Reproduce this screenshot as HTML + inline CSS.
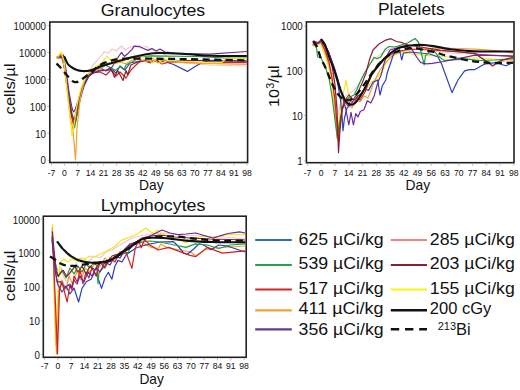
<!DOCTYPE html><html><head><meta charset="utf-8"><style>html,body{margin:0;padding:0;background:#fff;}svg{display:block}text{font-family:"Liberation Sans", sans-serif;fill:#111}</style></head><body>
<svg width="520" height="390" viewBox="0 0 520 390">
<rect width="520" height="390" fill="#fff"/>
<rect x="49.8" y="22" width="197.80" height="140.50" fill="none" stroke="#222" stroke-width="1.6"/>
<line x1="51.50" y1="163.30" x2="51.50" y2="165.50" stroke="#aaa" stroke-width="0.8"/>
<text x="51.50" y="176.20" text-anchor="middle" font-size="9.8" transform="translate(51.50 0) scale(0.88 1) translate(-51.50 0)">-7</text>
<line x1="64.53" y1="163.30" x2="64.53" y2="165.50" stroke="#aaa" stroke-width="0.8"/>
<text x="64.53" y="176.20" text-anchor="middle" font-size="9.8" transform="translate(64.53 0) scale(0.88 1) translate(-64.53 0)">0</text>
<line x1="77.56" y1="163.30" x2="77.56" y2="165.50" stroke="#aaa" stroke-width="0.8"/>
<text x="77.56" y="176.20" text-anchor="middle" font-size="9.8" transform="translate(77.56 0) scale(0.88 1) translate(-77.56 0)">7</text>
<line x1="90.59" y1="163.30" x2="90.59" y2="165.50" stroke="#aaa" stroke-width="0.8"/>
<text x="90.59" y="176.20" text-anchor="middle" font-size="9.8" transform="translate(90.59 0) scale(0.88 1) translate(-90.59 0)">14</text>
<line x1="103.62" y1="163.30" x2="103.62" y2="165.50" stroke="#aaa" stroke-width="0.8"/>
<text x="103.62" y="176.20" text-anchor="middle" font-size="9.8" transform="translate(103.62 0) scale(0.88 1) translate(-103.62 0)">21</text>
<line x1="116.65" y1="163.30" x2="116.65" y2="165.50" stroke="#aaa" stroke-width="0.8"/>
<text x="116.65" y="176.20" text-anchor="middle" font-size="9.8" transform="translate(116.65 0) scale(0.88 1) translate(-116.65 0)">28</text>
<line x1="129.68" y1="163.30" x2="129.68" y2="165.50" stroke="#aaa" stroke-width="0.8"/>
<text x="129.68" y="176.20" text-anchor="middle" font-size="9.8" transform="translate(129.68 0) scale(0.88 1) translate(-129.68 0)">35</text>
<line x1="142.71" y1="163.30" x2="142.71" y2="165.50" stroke="#aaa" stroke-width="0.8"/>
<text x="142.71" y="176.20" text-anchor="middle" font-size="9.8" transform="translate(142.71 0) scale(0.88 1) translate(-142.71 0)">42</text>
<line x1="155.74" y1="163.30" x2="155.74" y2="165.50" stroke="#aaa" stroke-width="0.8"/>
<text x="155.74" y="176.20" text-anchor="middle" font-size="9.8" transform="translate(155.74 0) scale(0.88 1) translate(-155.74 0)">49</text>
<line x1="168.77" y1="163.30" x2="168.77" y2="165.50" stroke="#aaa" stroke-width="0.8"/>
<text x="168.77" y="176.20" text-anchor="middle" font-size="9.8" transform="translate(168.77 0) scale(0.88 1) translate(-168.77 0)">56</text>
<line x1="181.80" y1="163.30" x2="181.80" y2="165.50" stroke="#aaa" stroke-width="0.8"/>
<text x="181.80" y="176.20" text-anchor="middle" font-size="9.8" transform="translate(181.80 0) scale(0.88 1) translate(-181.80 0)">63</text>
<line x1="194.83" y1="163.30" x2="194.83" y2="165.50" stroke="#aaa" stroke-width="0.8"/>
<text x="194.83" y="176.20" text-anchor="middle" font-size="9.8" transform="translate(194.83 0) scale(0.88 1) translate(-194.83 0)">70</text>
<line x1="207.86" y1="163.30" x2="207.86" y2="165.50" stroke="#aaa" stroke-width="0.8"/>
<text x="207.86" y="176.20" text-anchor="middle" font-size="9.8" transform="translate(207.86 0) scale(0.88 1) translate(-207.86 0)">77</text>
<line x1="220.89" y1="163.30" x2="220.89" y2="165.50" stroke="#aaa" stroke-width="0.8"/>
<text x="220.89" y="176.20" text-anchor="middle" font-size="9.8" transform="translate(220.89 0) scale(0.88 1) translate(-220.89 0)">84</text>
<line x1="233.92" y1="163.30" x2="233.92" y2="165.50" stroke="#aaa" stroke-width="0.8"/>
<text x="233.92" y="176.20" text-anchor="middle" font-size="9.8" transform="translate(233.92 0) scale(0.88 1) translate(-233.92 0)">91</text>
<line x1="246.95" y1="163.30" x2="246.95" y2="165.50" stroke="#aaa" stroke-width="0.8"/>
<text x="246.95" y="176.20" text-anchor="middle" font-size="9.8" transform="translate(246.95 0) scale(0.88 1) translate(-246.95 0)">98</text>
<line x1="47.30" y1="160.20" x2="49.00" y2="160.20" stroke="#aaa" stroke-width="0.8"/>
<text x="46.00" y="164.50" text-anchor="end" font-size="10.8" transform="translate(46.00 0) scale(0.9 1) translate(-46.00 0)">0</text>
<line x1="47.30" y1="133.28" x2="49.00" y2="133.28" stroke="#aaa" stroke-width="0.8"/>
<text x="46.00" y="137.58" text-anchor="end" font-size="10.8" transform="translate(46.00 0) scale(0.9 1) translate(-46.00 0)">10</text>
<line x1="47.30" y1="106.36" x2="49.00" y2="106.36" stroke="#aaa" stroke-width="0.8"/>
<text x="46.00" y="110.66" text-anchor="end" font-size="10.8" transform="translate(46.00 0) scale(0.9 1) translate(-46.00 0)">100</text>
<line x1="47.30" y1="79.44" x2="49.00" y2="79.44" stroke="#aaa" stroke-width="0.8"/>
<text x="46.00" y="83.74" text-anchor="end" font-size="10.8" transform="translate(46.00 0) scale(0.9 1) translate(-46.00 0)">1000</text>
<line x1="47.30" y1="52.52" x2="49.00" y2="52.52" stroke="#aaa" stroke-width="0.8"/>
<text x="46.00" y="56.82" text-anchor="end" font-size="10.8" transform="translate(46.00 0) scale(0.9 1) translate(-46.00 0)">10000</text>
<line x1="47.30" y1="25.60" x2="49.00" y2="25.60" stroke="#aaa" stroke-width="0.8"/>
<text x="46.00" y="29.90" text-anchor="end" font-size="10.8" transform="translate(46.00 0) scale(0.9 1) translate(-46.00 0)">100000</text>
<rect x="306.4" y="21.9" width="207.60" height="140.80" fill="none" stroke="#222" stroke-width="1.6"/>
<line x1="307.50" y1="163.50" x2="307.50" y2="165.70" stroke="#aaa" stroke-width="0.8"/>
<text x="307.50" y="176.20" text-anchor="middle" font-size="9.8" transform="translate(307.50 0) scale(0.88 1) translate(-307.50 0)">-7</text>
<line x1="321.25" y1="163.50" x2="321.25" y2="165.70" stroke="#aaa" stroke-width="0.8"/>
<text x="321.25" y="176.20" text-anchor="middle" font-size="9.8" transform="translate(321.25 0) scale(0.88 1) translate(-321.25 0)">0</text>
<line x1="335.00" y1="163.50" x2="335.00" y2="165.70" stroke="#aaa" stroke-width="0.8"/>
<text x="335.00" y="176.20" text-anchor="middle" font-size="9.8" transform="translate(335.00 0) scale(0.88 1) translate(-335.00 0)">7</text>
<line x1="348.75" y1="163.50" x2="348.75" y2="165.70" stroke="#aaa" stroke-width="0.8"/>
<text x="348.75" y="176.20" text-anchor="middle" font-size="9.8" transform="translate(348.75 0) scale(0.88 1) translate(-348.75 0)">14</text>
<line x1="362.50" y1="163.50" x2="362.50" y2="165.70" stroke="#aaa" stroke-width="0.8"/>
<text x="362.50" y="176.20" text-anchor="middle" font-size="9.8" transform="translate(362.50 0) scale(0.88 1) translate(-362.50 0)">21</text>
<line x1="376.25" y1="163.50" x2="376.25" y2="165.70" stroke="#aaa" stroke-width="0.8"/>
<text x="376.25" y="176.20" text-anchor="middle" font-size="9.8" transform="translate(376.25 0) scale(0.88 1) translate(-376.25 0)">28</text>
<line x1="390.00" y1="163.50" x2="390.00" y2="165.70" stroke="#aaa" stroke-width="0.8"/>
<text x="390.00" y="176.20" text-anchor="middle" font-size="9.8" transform="translate(390.00 0) scale(0.88 1) translate(-390.00 0)">35</text>
<line x1="403.75" y1="163.50" x2="403.75" y2="165.70" stroke="#aaa" stroke-width="0.8"/>
<text x="403.75" y="176.20" text-anchor="middle" font-size="9.8" transform="translate(403.75 0) scale(0.88 1) translate(-403.75 0)">42</text>
<line x1="417.50" y1="163.50" x2="417.50" y2="165.70" stroke="#aaa" stroke-width="0.8"/>
<text x="417.50" y="176.20" text-anchor="middle" font-size="9.8" transform="translate(417.50 0) scale(0.88 1) translate(-417.50 0)">49</text>
<line x1="431.25" y1="163.50" x2="431.25" y2="165.70" stroke="#aaa" stroke-width="0.8"/>
<text x="431.25" y="176.20" text-anchor="middle" font-size="9.8" transform="translate(431.25 0) scale(0.88 1) translate(-431.25 0)">56</text>
<line x1="445.00" y1="163.50" x2="445.00" y2="165.70" stroke="#aaa" stroke-width="0.8"/>
<text x="445.00" y="176.20" text-anchor="middle" font-size="9.8" transform="translate(445.00 0) scale(0.88 1) translate(-445.00 0)">63</text>
<line x1="458.75" y1="163.50" x2="458.75" y2="165.70" stroke="#aaa" stroke-width="0.8"/>
<text x="458.75" y="176.20" text-anchor="middle" font-size="9.8" transform="translate(458.75 0) scale(0.88 1) translate(-458.75 0)">70</text>
<line x1="472.50" y1="163.50" x2="472.50" y2="165.70" stroke="#aaa" stroke-width="0.8"/>
<text x="472.50" y="176.20" text-anchor="middle" font-size="9.8" transform="translate(472.50 0) scale(0.88 1) translate(-472.50 0)">77</text>
<line x1="486.25" y1="163.50" x2="486.25" y2="165.70" stroke="#aaa" stroke-width="0.8"/>
<text x="486.25" y="176.20" text-anchor="middle" font-size="9.8" transform="translate(486.25 0) scale(0.88 1) translate(-486.25 0)">84</text>
<line x1="500.00" y1="163.50" x2="500.00" y2="165.70" stroke="#aaa" stroke-width="0.8"/>
<text x="500.00" y="176.20" text-anchor="middle" font-size="9.8" transform="translate(500.00 0) scale(0.88 1) translate(-500.00 0)">91</text>
<line x1="513.75" y1="163.50" x2="513.75" y2="165.70" stroke="#aaa" stroke-width="0.8"/>
<text x="513.75" y="176.20" text-anchor="middle" font-size="9.8" transform="translate(513.75 0) scale(0.88 1) translate(-513.75 0)">98</text>
<line x1="303.90" y1="160.30" x2="305.60" y2="160.30" stroke="#aaa" stroke-width="0.8"/>
<text x="302.70" y="164.60" text-anchor="end" font-size="10.8" transform="translate(302.70 0) scale(0.9 1) translate(-302.70 0)">1</text>
<line x1="303.90" y1="115.50" x2="305.60" y2="115.50" stroke="#aaa" stroke-width="0.8"/>
<text x="302.70" y="119.80" text-anchor="end" font-size="10.8" transform="translate(302.70 0) scale(0.9 1) translate(-302.70 0)">10</text>
<line x1="303.90" y1="70.70" x2="305.60" y2="70.70" stroke="#aaa" stroke-width="0.8"/>
<text x="302.70" y="75.00" text-anchor="end" font-size="10.8" transform="translate(302.70 0) scale(0.9 1) translate(-302.70 0)">100</text>
<line x1="303.90" y1="25.90" x2="305.60" y2="25.90" stroke="#aaa" stroke-width="0.8"/>
<text x="302.70" y="30.20" text-anchor="end" font-size="10.8" transform="translate(302.70 0) scale(0.9 1) translate(-302.70 0)">1000</text>
<rect x="43.3" y="216.2" width="202.90" height="141.10" fill="none" stroke="#222" stroke-width="1.6"/>
<line x1="44.60" y1="358.10" x2="44.60" y2="360.30" stroke="#aaa" stroke-width="0.8"/>
<text x="44.60" y="369.30" text-anchor="middle" font-size="9.8" transform="translate(44.60 0) scale(0.88 1) translate(-44.60 0)">-7</text>
<line x1="57.90" y1="358.10" x2="57.90" y2="360.30" stroke="#aaa" stroke-width="0.8"/>
<text x="57.90" y="369.30" text-anchor="middle" font-size="9.8" transform="translate(57.90 0) scale(0.88 1) translate(-57.90 0)">0</text>
<line x1="71.20" y1="358.10" x2="71.20" y2="360.30" stroke="#aaa" stroke-width="0.8"/>
<text x="71.20" y="369.30" text-anchor="middle" font-size="9.8" transform="translate(71.20 0) scale(0.88 1) translate(-71.20 0)">7</text>
<line x1="84.50" y1="358.10" x2="84.50" y2="360.30" stroke="#aaa" stroke-width="0.8"/>
<text x="84.50" y="369.30" text-anchor="middle" font-size="9.8" transform="translate(84.50 0) scale(0.88 1) translate(-84.50 0)">14</text>
<line x1="97.80" y1="358.10" x2="97.80" y2="360.30" stroke="#aaa" stroke-width="0.8"/>
<text x="97.80" y="369.30" text-anchor="middle" font-size="9.8" transform="translate(97.80 0) scale(0.88 1) translate(-97.80 0)">21</text>
<line x1="111.10" y1="358.10" x2="111.10" y2="360.30" stroke="#aaa" stroke-width="0.8"/>
<text x="111.10" y="369.30" text-anchor="middle" font-size="9.8" transform="translate(111.10 0) scale(0.88 1) translate(-111.10 0)">28</text>
<line x1="124.40" y1="358.10" x2="124.40" y2="360.30" stroke="#aaa" stroke-width="0.8"/>
<text x="124.40" y="369.30" text-anchor="middle" font-size="9.8" transform="translate(124.40 0) scale(0.88 1) translate(-124.40 0)">35</text>
<line x1="137.70" y1="358.10" x2="137.70" y2="360.30" stroke="#aaa" stroke-width="0.8"/>
<text x="137.70" y="369.30" text-anchor="middle" font-size="9.8" transform="translate(137.70 0) scale(0.88 1) translate(-137.70 0)">42</text>
<line x1="151.00" y1="358.10" x2="151.00" y2="360.30" stroke="#aaa" stroke-width="0.8"/>
<text x="151.00" y="369.30" text-anchor="middle" font-size="9.8" transform="translate(151.00 0) scale(0.88 1) translate(-151.00 0)">49</text>
<line x1="164.30" y1="358.10" x2="164.30" y2="360.30" stroke="#aaa" stroke-width="0.8"/>
<text x="164.30" y="369.30" text-anchor="middle" font-size="9.8" transform="translate(164.30 0) scale(0.88 1) translate(-164.30 0)">56</text>
<line x1="177.60" y1="358.10" x2="177.60" y2="360.30" stroke="#aaa" stroke-width="0.8"/>
<text x="177.60" y="369.30" text-anchor="middle" font-size="9.8" transform="translate(177.60 0) scale(0.88 1) translate(-177.60 0)">63</text>
<line x1="190.90" y1="358.10" x2="190.90" y2="360.30" stroke="#aaa" stroke-width="0.8"/>
<text x="190.90" y="369.30" text-anchor="middle" font-size="9.8" transform="translate(190.90 0) scale(0.88 1) translate(-190.90 0)">70</text>
<line x1="204.20" y1="358.10" x2="204.20" y2="360.30" stroke="#aaa" stroke-width="0.8"/>
<text x="204.20" y="369.30" text-anchor="middle" font-size="9.8" transform="translate(204.20 0) scale(0.88 1) translate(-204.20 0)">77</text>
<line x1="217.50" y1="358.10" x2="217.50" y2="360.30" stroke="#aaa" stroke-width="0.8"/>
<text x="217.50" y="369.30" text-anchor="middle" font-size="9.8" transform="translate(217.50 0) scale(0.88 1) translate(-217.50 0)">84</text>
<line x1="230.80" y1="358.10" x2="230.80" y2="360.30" stroke="#aaa" stroke-width="0.8"/>
<text x="230.80" y="369.30" text-anchor="middle" font-size="9.8" transform="translate(230.80 0) scale(0.88 1) translate(-230.80 0)">91</text>
<line x1="244.10" y1="358.10" x2="244.10" y2="360.30" stroke="#aaa" stroke-width="0.8"/>
<text x="244.10" y="369.30" text-anchor="middle" font-size="9.8" transform="translate(244.10 0) scale(0.88 1) translate(-244.10 0)">98</text>
<line x1="40.80" y1="354.50" x2="42.50" y2="354.50" stroke="#aaa" stroke-width="0.8"/>
<text x="39.80" y="358.80" text-anchor="end" font-size="10.8" transform="translate(39.80 0) scale(0.9 1) translate(-39.80 0)">0</text>
<line x1="40.80" y1="320.70" x2="42.50" y2="320.70" stroke="#aaa" stroke-width="0.8"/>
<text x="39.80" y="325.00" text-anchor="end" font-size="10.8" transform="translate(39.80 0) scale(0.9 1) translate(-39.80 0)">10</text>
<line x1="40.80" y1="286.90" x2="42.50" y2="286.90" stroke="#aaa" stroke-width="0.8"/>
<text x="39.80" y="291.20" text-anchor="end" font-size="10.8" transform="translate(39.80 0) scale(0.9 1) translate(-39.80 0)">100</text>
<line x1="40.80" y1="253.10" x2="42.50" y2="253.10" stroke="#aaa" stroke-width="0.8"/>
<text x="39.80" y="257.40" text-anchor="end" font-size="10.8" transform="translate(39.80 0) scale(0.9 1) translate(-39.80 0)">1000</text>
<line x1="40.80" y1="219.30" x2="42.50" y2="219.30" stroke="#aaa" stroke-width="0.8"/>
<text x="39.80" y="223.60" text-anchor="end" font-size="10.8" transform="translate(39.80 0) scale(0.9 1) translate(-39.80 0)">10000</text>
<defs>
<clipPath id="cG"><rect x="50.599999999999994" y="22.8" width="196.20" height="138.90"/></clipPath>
<clipPath id="cP"><rect x="307.2" y="22.7" width="206.00" height="139.20"/></clipPath>
<clipPath id="cL"><rect x="44.099999999999994" y="217.0" width="201.30" height="139.50"/></clipPath>
</defs>
<g clip-path="url(#cG)" fill="none" stroke-linejoin="round" stroke-linecap="round">
<path d="M57.0,58.0 L61.0,54.0 L64.0,62.0 L68.0,92.0 L71.0,110.0 L74.0,118.0 L76.0,112.0 L79.0,100.0 L83.0,86.0 L88.0,74.0 L93.0,65.0 L100.6,56.3 L104.5,51.7 L108.3,53.2 L112.2,49.0 L116.0,51.0 L121.4,46.0 L125.2,50.2 L129.0,47.8 L134.5,45.5 L140.0,48.0 L146.0,46.5 L152.0,50.0 L160.0,52.0 L170.0,58.0 L185.0,63.0 L210.0,65.0 L247.0,66.0" stroke="#f7c2d2" stroke-width="1.2"/>
<path d="M58.0,58.0 L62.0,56.0 L65.0,68.0 L69.0,98.0 L72.0,115.0 L75.0,124.0 L77.0,115.0 L80.0,100.0 L84.0,86.0 L89.0,76.0 L95.0,70.0 L100.0,68.0 L106.0,71.0 L110.0,68.0 L116.0,73.0 L120.0,66.0 L125.0,70.0 L130.0,63.0 L140.0,61.0 L150.0,62.0 L160.0,61.0 L166.0,62.0 L173.0,64.3 L187.4,71.4 L196.0,66.0 L202.8,62.2 L208.0,61.1 L247.0,61.0" stroke="#2a3fc0" stroke-width="1.2"/>
<path d="M58.0,58.0 L62.0,56.0 L66.0,75.0 L70.0,105.0 L73.0,122.0 L74.5,128.0 L76.0,120.0 L79.0,100.0 L83.0,86.0 L88.0,75.0 L92.0,70.0 L96.0,67.0 L100.0,65.0 L106.0,65.5 L111.5,68.0 L115.4,70.5 L120.0,66.6 L124.0,69.7 L126.0,65.0 L132.0,62.0 L140.0,57.0 L150.0,55.8 L196.0,56.5 L225.0,58.0 L247.0,58.0" stroke="#1f9e3a" stroke-width="1.2"/>
<path d="M57.0,57.0 L61.0,55.0 L64.0,65.0 L68.0,95.0 L71.0,115.0 L74.0,125.0 L76.0,116.0 L79.0,98.0 L83.0,85.0 L88.0,77.0 L92.0,73.0 L100.0,72.0 L106.0,75.0 L111.0,70.0 L116.0,76.0 L120.0,72.0 L126.0,78.0 L131.0,70.0 L138.0,63.0 L144.0,60.0 L150.0,63.0 L156.0,60.0 L162.0,64.0 L170.0,62.0 L190.0,62.4 L247.0,62.6" stroke="#d42020" stroke-width="1.2"/>
<path d="M58.0,57.0 L62.0,55.0 L65.0,70.0 L69.0,100.0 L72.0,116.0 L74.5,120.0 L77.0,108.0 L80.0,96.0 L85.0,82.0 L90.0,74.0 L100.0,71.0 L111.5,69.7 L114.6,77.4 L117.7,70.5 L123.0,80.5 L126.0,70.5 L127.7,75.0 L130.8,65.0 L140.0,61.0 L150.0,61.0 L170.0,61.0 L190.0,60.5 L215.0,60.4 L247.0,61.0" stroke="#8a2030" stroke-width="1.2"/>
<path d="M60.0,58.0 L63.5,55.0 L66.0,70.0 L69.0,92.0 L72.0,108.0 L73.5,112.0 L75.0,110.0 L77.0,104.0 L80.0,96.0 L84.0,84.0 L89.0,76.0 L95.0,72.0 L100.0,70.0 L106.0,70.5 L112.0,67.0 L118.3,57.0 L121.4,52.5 L124.5,56.3 L128.3,53.2 L132.0,49.4 L134.0,46.3 L139.0,46.3 L143.0,48.3 L148.0,50.4 L152.0,48.5 L156.0,51.0 L160.0,49.0 L165.0,52.0 L175.0,53.2 L192.0,53.8 L210.0,54.2 L247.0,51.5" stroke="#6a2a9a" stroke-width="1.2"/>
<path d="M57.0,58.0 L60.0,55.0 L62.0,54.0 L66.0,80.0 L70.0,115.0 L73.0,130.0 L75.5,160.0 L77.0,128.0 L80.0,100.0 L84.0,82.0 L88.0,74.0 L92.0,71.0 L96.0,70.0 L102.0,68.0 L108.0,63.0 L114.0,64.0 L120.0,62.0 L126.0,64.0 L132.0,60.0 L140.0,59.0 L146.0,62.0 L152.0,58.0 L158.0,63.0 L164.0,59.0 L172.0,62.0 L190.0,63.0 L225.0,63.8 L247.0,64.5" stroke="#f0a030" stroke-width="1.2"/>
<path d="M58.0,56.0 L61.0,52.0 L64.0,60.0 L67.0,90.0 L70.0,118.0 L72.0,136.0 L74.0,125.0 L77.0,105.0 L81.0,88.0 L86.0,76.0 L92.0,70.0 L97.0,66.0 L102.0,63.0 L106.8,56.0 L110.0,60.0 L116.0,58.0 L122.0,62.0 L130.0,57.0 L140.0,56.0 L148.0,58.0 L152.0,63.0 L157.0,58.0 L162.0,63.0 L168.0,60.0 L190.0,62.0 L210.0,62.7 L222.0,62.3 L226.0,58.5 L232.0,58.0 L247.0,58.5" stroke="#f2e81a" stroke-width="1.2"/>
<path d="M64.50,57.00 C65.05,58.17 66.55,62.25 67.80,64.00 C69.05,65.75 70.47,66.50 72.00,67.50 C73.53,68.50 75.33,69.42 77.00,70.00 C78.67,70.58 80.33,70.83 82.00,71.00 C83.67,71.17 85.33,71.17 87.00,71.00 C88.67,70.83 90.33,70.50 92.00,70.00 C93.67,69.50 95.33,68.67 97.00,68.00 C98.67,67.33 100.33,66.58 102.00,66.00 C103.67,65.42 105.33,65.00 107.00,64.50 C108.67,64.00 110.33,63.50 112.00,63.00 C113.67,62.50 115.00,62.08 117.00,61.50 C119.00,60.92 121.67,60.17 124.00,59.50 C126.33,58.83 128.67,58.08 131.00,57.50 C133.33,56.92 135.17,56.58 138.00,56.00 C140.83,55.42 144.67,54.50 148.00,54.00 C151.33,53.50 154.33,53.13 158.00,53.00 C161.67,52.87 164.67,53.00 170.00,53.20 C175.33,53.40 183.33,53.77 190.00,54.20 C196.67,54.63 200.50,55.50 210.00,55.80 C219.50,56.10 240.83,55.97 247.00,56.00" stroke="#111" stroke-width="2.1"/>
<path d="M56.50,63.50 C57.08,64.08 58.62,65.45 60.00,67.00 C61.38,68.55 62.97,70.63 64.80,72.80 C66.63,74.97 69.47,78.50 71.00,80.00 C72.53,81.50 73.00,81.47 74.00,81.80 C75.00,82.13 76.00,82.17 77.00,82.00 C78.00,81.83 79.00,81.38 80.00,80.80 C81.00,80.22 81.83,79.38 83.00,78.50 C84.17,77.62 85.50,76.58 87.00,75.50 C88.50,74.42 90.33,73.33 92.00,72.00 C93.67,70.67 95.33,68.83 97.00,67.50 C98.67,66.17 100.33,64.92 102.00,64.00 C103.67,63.08 105.33,62.62 107.00,62.00 C108.67,61.38 109.83,60.83 112.00,60.30 C114.17,59.77 117.00,59.08 120.00,58.80 C123.00,58.52 125.00,58.62 130.00,58.60 C135.00,58.58 140.00,58.60 150.00,58.70 C160.00,58.80 173.83,58.92 190.00,59.20 C206.17,59.48 237.50,60.20 247.00,60.40" stroke="#111" stroke-width="2.3" stroke-dasharray="7 4.5" stroke-linecap="butt"/>
</g>
<g clip-path="url(#cP)" fill="none" stroke-linejoin="round" stroke-linecap="round">
<path d="M313.0,44.0 L317.0,43.0 L321.0,41.0 L325.0,50.0 L329.0,62.0 L333.0,75.0 L336.0,95.0 L338.0,115.0 L340.0,105.0 L343.0,98.0 L347.0,95.0 L352.0,92.0 L356.0,88.0 L360.0,82.0 L365.0,72.0 L369.0,65.0 L373.0,60.4 L380.0,54.6 L387.0,50.0 L395.0,47.0 L405.0,45.0 L420.0,46.0 L435.0,51.0 L450.0,53.0 L465.8,54.0 L475.0,53.4 L481.0,58.0 L492.6,66.8 L500.8,61.7 L515.0,60.0" stroke="#f7c2d2" stroke-width="1.2"/>
<path d="M313.0,46.0 L317.0,46.0 L321.0,44.0 L325.0,55.0 L329.0,68.0 L332.0,85.0 L334.0,105.0 L335.5,122.0 L337.0,132.0 L339.0,120.0 L342.0,100.0 L344.5,88.0 L346.0,80.0 L348.0,92.0 L351.0,98.0 L355.0,100.0 L358.0,95.0 L362.0,97.0 L366.0,90.0 L370.0,84.0 L375.0,80.0 L380.0,74.0 L383.0,70.0 L386.0,63.0 L390.0,57.0 L395.0,54.0 L402.3,53.0 L413.8,54.2 L425.4,55.4 L440.0,56.0 L460.0,58.0 L480.0,58.0 L500.0,59.6 L515.0,59.6" stroke="#f2e81a" stroke-width="1.2"/>
<path d="M313.0,44.0 L317.0,42.0 L321.0,41.0 L325.0,52.0 L329.0,65.0 L332.0,78.0 L334.5,100.0 L336.0,125.0 L337.5,140.0 L339.5,125.0 L342.0,110.0 L344.0,98.0 L348.0,104.0 L352.0,108.0 L356.0,100.0 L360.0,102.0 L364.0,96.0 L368.0,98.0 L371.0,90.0 L375.0,80.0 L380.0,70.0 L386.0,62.0 L392.0,56.0 L400.0,52.0 L410.0,50.0 L420.0,49.0 L435.0,48.0 L460.0,48.5 L480.0,49.4 L500.0,51.0 L515.0,53.5" stroke="#f0a030" stroke-width="1.2"/>
<path d="M313.0,42.0 L317.0,44.0 L321.0,42.0 L325.0,45.0 L328.5,52.0 L331.5,60.0 L334.5,69.0 L337.0,79.0 L338.5,88.0 L340.5,100.0 L342.0,115.0 L343.0,130.8 L344.5,118.0 L347.0,108.0 L350.0,105.0 L354.0,100.0 L358.0,96.0 L362.0,93.0 L365.0,89.2 L368.5,90.4 L373.0,82.3 L377.7,80.0 L380.0,95.0 L382.3,85.8 L385.8,80.0 L387.3,72.7 L392.0,58.8 L394.2,52.0 L400.0,52.0 L401.7,60.0 L403.5,53.0 L410.0,52.0 L420.0,53.0 L430.0,54.0 L438.0,57.0 L441.5,63.8 L452.0,92.6 L458.0,80.0 L464.6,70.8 L469.2,69.6 L475.0,69.6 L484.2,64.2 L495.6,62.7 L505.9,65.8 L515.0,61.7" stroke="#2a3fc0" stroke-width="1.2"/>
<path d="M313.4,43.0 L316.5,48.0 L317.7,57.0 L321.0,58.0 L325.0,66.0 L329.0,78.0 L332.0,96.0 L334.5,116.0 L337.3,137.7 L339.0,125.0 L342.0,110.0 L346.0,100.0 L350.0,97.0 L354.0,95.0 L357.0,89.2 L361.0,80.0 L365.0,72.0 L368.5,66.8 L374.0,57.2 L377.0,58.8 L380.8,56.9 L385.0,49.5 L388.8,46.5 L395.0,47.0 L408.0,42.7 L415.0,38.5 L418.5,42.0 L420.8,51.1 L424.2,65.0 L425.4,55.8 L426.5,54.6 L432.3,48.8 L438.0,55.8 L443.8,60.4 L467.0,59.2 L480.0,60.5 L495.0,60.0 L515.0,58.6" stroke="#1f9e3a" stroke-width="1.2"/>
<path d="M313.0,45.0 L317.0,44.0 L321.0,42.0 L325.0,50.0 L329.0,62.0 L332.0,78.0 L335.0,100.0 L337.0,125.0 L338.5,140.0 L340.0,125.0 L342.0,110.0 L345.0,102.0 L348.0,106.0 L351.0,100.0 L354.0,104.0 L357.0,97.0 L360.0,100.0 L362.5,96.0 L365.0,92.0 L368.0,84.0 L372.0,74.0 L378.0,64.0 L385.0,58.0 L395.0,52.0 L410.0,49.0 L430.0,50.0 L460.0,52.0 L480.3,54.5 L515.0,56.5" stroke="#d42020" stroke-width="1.2"/>
<path d="M321.0,39.4 L324.5,45.5 L328.8,52.3 L332.0,65.0 L335.0,85.0 L337.0,110.0 L338.5,152.7 L340.0,130.0 L342.0,110.0 L345.0,100.0 L349.0,95.0 L353.0,100.0 L357.0,94.0 L361.5,84.6 L366.0,73.0 L369.6,59.2 L373.0,50.0 L379.0,44.0 L385.0,40.4 L390.8,38.7 L396.5,41.5 L402.3,42.7 L408.0,45.0 L420.0,47.0 L440.0,50.0 L460.0,52.0 L475.0,53.5 L483.0,59.0 L492.6,65.8 L500.0,61.0 L515.0,56.5" stroke="#8a2030" stroke-width="1.2"/>
<path d="M313.4,41.0 L318.3,43.0 L320.8,40.0 L325.0,44.0 L328.0,51.0 L331.0,59.0 L334.0,67.0 L337.0,76.0 L340.0,87.0 L343.0,98.0 L346.0,110.0 L348.8,125.0 L351.0,112.3 L353.4,125.0 L355.8,113.5 L358.0,117.0 L360.4,111.2 L363.8,110.0 L367.3,100.8 L370.8,103.0 L374.2,96.0 L376.5,87.0 L378.8,80.0 L381.0,75.4 L384.6,61.5 L387.0,55.8 L390.0,50.0 L400.0,47.0 L411.5,48.5 L415.0,54.6 L417.3,58.0 L420.8,62.7 L426.5,63.8 L432.3,63.3 L443.8,61.5 L455.4,59.2 L466.9,56.9 L475.0,55.2 L490.0,55.5 L515.0,56.0" stroke="#6a2a9a" stroke-width="1.2"/>
<path d="M321.50,39.50 C321.92,40.08 323.12,41.25 324.00,43.00 C324.88,44.75 325.88,47.50 326.80,50.00 C327.72,52.50 328.53,55.38 329.50,58.00 C330.47,60.62 331.57,62.88 332.60,65.70 C333.63,68.52 334.67,71.68 335.70,74.90 C336.73,78.12 337.83,82.07 338.80,85.00 C339.77,87.93 340.43,89.92 341.50,92.50 C342.57,95.08 343.82,98.48 345.20,100.50 C346.58,102.52 348.25,104.10 349.80,104.60 C351.35,105.10 352.97,104.60 354.50,103.50 C356.03,102.40 357.22,100.67 359.00,98.00 C360.78,95.33 363.13,91.33 365.20,87.50 C367.27,83.67 369.32,78.50 371.40,75.00 C373.48,71.50 375.43,69.33 377.70,66.50 C379.97,63.67 382.62,60.42 385.00,58.00 C387.38,55.58 389.70,53.67 392.00,52.00 C394.30,50.33 396.50,48.98 398.80,48.00 C401.10,47.02 403.10,46.60 405.80,46.10 C408.50,45.60 411.93,45.18 415.00,45.00 C418.07,44.82 421.13,44.82 424.20,45.00 C427.27,45.18 429.03,45.40 433.40,46.10 C437.77,46.80 445.00,48.42 450.40,49.20 C455.80,49.98 460.70,50.42 465.80,50.80 C470.90,51.18 473.05,51.38 481.00,51.50 C488.95,51.62 508.08,51.50 513.50,51.50" stroke="#111" stroke-width="2.1"/>
<path d="M313.40,41.20 C314.00,42.17 315.73,44.07 317.00,47.00 C318.27,49.93 319.77,55.75 321.00,58.80 C322.23,61.85 323.32,63.00 324.40,65.30 C325.48,67.60 326.48,70.15 327.50,72.60 C328.52,75.05 329.50,77.68 330.50,80.00 C331.50,82.32 332.50,84.50 333.50,86.50 C334.50,88.50 335.42,90.33 336.50,92.00 C337.58,93.67 338.83,95.25 340.00,96.50 C341.17,97.75 342.37,98.83 343.50,99.50 C344.63,100.17 345.63,100.50 346.80,100.50 C347.97,100.50 349.47,99.97 350.50,99.50 C351.53,99.03 351.58,99.03 353.00,97.70 C354.42,96.37 356.70,94.32 359.00,91.50 C361.30,88.68 364.47,84.13 366.80,80.80 C369.13,77.47 370.80,74.47 373.00,71.50 C375.20,68.53 377.50,65.58 380.00,63.00 C382.50,60.42 385.33,57.83 388.00,56.00 C390.67,54.17 393.17,53.17 396.00,52.00 C398.83,50.83 401.83,49.67 405.00,49.00 C408.17,48.33 411.67,47.80 415.00,48.00 C418.33,48.20 421.50,49.45 425.00,50.20 C428.50,50.95 432.83,51.70 436.00,52.50 C439.17,53.30 440.58,54.08 444.00,55.00 C447.42,55.92 451.83,57.00 456.50,58.00 C461.17,59.00 467.42,60.28 472.00,61.00 C476.58,61.72 480.17,61.97 484.00,62.30 C487.83,62.63 490.08,62.93 495.00,63.00 C499.92,63.07 510.42,62.75 513.50,62.70" stroke="#111" stroke-width="2.3" stroke-dasharray="7 4.5" stroke-linecap="butt"/>
</g>
<g clip-path="url(#cL)" fill="none" stroke-linejoin="round" stroke-linecap="round">
<path d="M52.8,246.0 L55.0,262.0 L58.0,270.0 L61.0,268.0 L64.0,278.0 L67.0,282.0 L70.0,274.0 L73.0,270.0 L77.0,262.0 L82.0,258.0 L88.0,262.0 L94.0,256.0 L100.0,258.0 L106.0,252.0 L112.0,250.0 L118.0,246.0 L125.0,242.0 L132.0,238.0 L140.0,236.0 L150.0,234.0 L165.0,233.0 L180.0,235.0 L200.0,236.0 L224.6,237.0 L245.0,239.0" stroke="#f7c2d2" stroke-width="1.2"/>
<path d="M52.6,224.0 L55.5,345.0 L58.0,290.0 L60.0,263.0 L64.0,259.0 L68.0,262.0 L72.0,259.0 L76.0,261.0 L80.0,258.0 L85.0,259.0 L90.0,256.0 L95.0,257.0 L100.0,254.0 L105.0,252.0 L110.0,249.0 L115.0,246.5 L118.0,243.0 L122.7,239.6 L129.6,237.3 L135.4,235.0 L140.0,232.0 L145.8,228.0 L149.2,231.0 L153.0,233.0 L157.3,230.0 L162.0,234.0 L170.0,236.0 L186.0,242.8 L201.5,236.0 L218.8,237.0 L224.6,234.7 L245.0,234.7" stroke="#f2e81a" stroke-width="1.2"/>
<path d="M52.2,228.0 L56.5,354.0 L59.0,288.0 L62.0,280.0 L66.0,290.0 L69.0,276.0 L73.0,285.0 L77.0,270.0 L81.0,280.0 L85.0,268.0 L90.0,272.0 L95.0,262.0 L100.0,266.0 L105.0,258.0 L110.0,262.0 L115.0,255.0 L120.0,258.0 L125.0,250.0 L130.0,246.0 L135.0,243.0 L140.0,241.6 L151.5,247.4 L158.5,248.5 L160.8,243.9 L168.0,248.0 L180.0,250.0 L190.7,252.0 L195.8,256.0 L205.0,249.7 L215.0,248.0 L230.0,247.0 L245.0,246.0" stroke="#f0a030" stroke-width="1.2"/>
<path d="M52.0,240.0 L55.0,270.0 L58.0,285.0 L62.0,292.0 L66.0,286.0 L70.0,294.0 L74.0,288.0 L78.6,302.0 L82.0,288.4 L86.5,281.5 L91.1,279.2 L94.6,272.3 L98.0,278.0 L101.5,288.4 L105.0,278.0 L108.4,272.3 L111.9,279.2 L114.8,266.5 L118.0,260.4 L122.0,262.0 L126.0,255.0 L130.0,252.0 L136.0,248.0 L142.0,246.0 L150.0,244.0 L160.0,242.0 L173.4,241.6 L177.0,245.0 L183.8,253.1 L187.3,254.3 L194.2,248.5 L199.2,243.9 L203.8,245.0 L210.8,249.7 L218.8,245.0 L228.0,246.2 L245.0,252.0" stroke="#2a3fc0" stroke-width="1.2"/>
<path d="M52.0,238.0 L55.0,262.0 L58.0,276.0 L62.0,270.0 L66.0,278.0 L70.0,268.0 L74.0,274.0 L78.0,266.0 L82.0,272.0 L86.0,264.0 L90.0,268.0 L94.0,262.0 L97.0,266.5 L98.0,283.8 L99.0,272.3 L103.0,268.0 L108.0,262.0 L113.0,260.0 L118.0,256.0 L123.0,254.0 L128.4,252.3 L129.6,248.8 L135.0,244.0 L142.0,242.0 L150.0,241.0 L160.0,242.0 L174.6,245.0 L186.0,247.4 L195.4,243.9 L207.3,245.0 L218.8,248.5 L230.4,245.0 L245.0,243.9" stroke="#1f9e3a" stroke-width="1.2"/>
<path d="M52.5,232.0 L57.5,354.0 L59.5,290.0 L62.0,282.0 L64.5,292.0 L67.2,302.0 L70.0,284.0 L72.0,290.0 L74.0,276.0 L77.3,282.0 L80.0,270.0 L83.0,283.8 L86.0,272.0 L88.8,278.0 L92.0,268.0 L96.0,276.0 L100.0,262.0 L105.0,268.0 L110.0,258.0 L115.0,262.0 L120.0,252.0 L126.1,252.3 L131.9,268.4 L135.4,247.7 L138.8,240.8 L141.1,247.7 L144.6,239.6 L150.0,245.0 L158.0,250.0 L168.8,247.4 L183.8,253.1 L190.0,255.4 L195.8,256.6 L207.3,247.4 L222.3,253.1 L245.0,250.8" stroke="#d42020" stroke-width="1.2"/>
<path d="M52.2,231.8 L54.0,250.0 L56.2,271.4 L58.3,276.5 L60.3,273.4 L63.4,270.4 L66.5,276.5 L69.5,273.4 L72.6,269.3 L74.7,266.3 L78.0,272.0 L82.0,266.0 L86.0,274.0 L90.0,266.0 L95.0,270.0 L100.0,262.0 L106.0,264.0 L112.0,256.0 L118.0,254.0 L124.0,250.0 L130.0,244.0 L136.0,242.0 L142.0,238.0 L150.0,236.0 L160.0,235.0 L175.0,237.0 L190.0,238.0 L210.0,239.0 L230.0,239.5 L245.0,240.0" stroke="#8a2030" stroke-width="1.2"/>
<path d="M52.0,236.0 L54.0,260.0 L57.0,282.0 L60.3,281.6 L62.4,284.7 L65.4,287.8 L68.5,284.7 L71.0,288.0 L74.0,280.0 L77.0,284.0 L80.0,276.0 L84.0,282.0 L88.0,272.0 L92.0,276.0 L96.0,268.0 L100.0,272.0 L105.0,262.0 L110.0,265.0 L115.0,256.0 L120.0,258.0 L126.0,248.0 L132.0,244.0 L140.0,240.0 L150.0,236.0 L162.0,230.0 L170.0,233.0 L178.0,234.7 L186.0,234.0 L190.0,233.5 L195.8,233.0 L201.5,234.7 L213.0,238.1 L220.0,235.8 L228.0,233.5 L239.6,231.8 L245.0,233.0" stroke="#6a2a9a" stroke-width="1.2"/>
<path d="M57.50,242.00 C57.93,242.58 59.25,244.40 60.10,245.50 C60.95,246.60 61.82,247.72 62.60,248.60 C63.38,249.48 64.03,250.03 64.80,250.80 C65.57,251.57 66.05,252.23 67.20,253.20 C68.35,254.17 69.80,255.42 71.70,256.60 C73.60,257.78 76.30,259.40 78.60,260.30 C80.90,261.20 83.20,261.60 85.50,262.00 C87.80,262.40 90.08,262.63 92.40,262.70 C94.72,262.77 96.92,262.68 99.40,262.40 C101.88,262.12 104.63,261.85 107.30,261.00 C109.97,260.15 112.72,258.88 115.40,257.30 C118.08,255.72 120.90,253.22 123.40,251.50 C125.90,249.78 128.22,248.50 130.40,247.00 C132.58,245.50 134.33,243.87 136.50,242.50 C138.67,241.13 140.82,239.58 143.40,238.80 C145.98,238.02 148.73,237.93 152.00,237.80 C155.27,237.67 159.23,237.77 163.00,238.00 C166.77,238.23 170.77,238.77 174.60,239.20 C178.43,239.63 181.77,240.20 186.00,240.60 C190.23,241.00 195.50,241.37 200.00,241.60 C204.50,241.83 208.90,241.88 213.00,242.00 C217.10,242.12 219.27,242.27 224.60,242.30 C229.93,242.33 241.60,242.22 245.00,242.20" stroke="#111" stroke-width="2.1"/>
<path d="M50.00,256.50 C50.92,257.08 54.00,258.93 55.50,260.00 C57.00,261.07 57.75,262.13 59.00,262.90 C60.25,263.67 61.47,264.12 63.00,264.60 C64.53,265.08 66.18,265.60 68.20,265.80 C70.22,266.00 72.60,266.00 75.10,265.80 C77.60,265.60 80.38,264.97 83.20,264.60 C86.02,264.23 89.20,263.90 92.00,263.60 C94.80,263.30 97.33,263.20 100.00,262.80 C102.67,262.40 105.43,262.07 108.00,261.20 C110.57,260.33 112.83,259.17 115.40,257.60 C117.97,256.03 120.90,253.53 123.40,251.80 C125.90,250.07 128.22,248.70 130.40,247.20 C132.58,245.70 134.33,244.17 136.50,242.80 C138.67,241.43 140.82,239.93 143.40,239.00 C145.98,238.07 148.40,237.63 152.00,237.20 C155.60,236.77 161.17,236.53 165.00,236.40 C168.83,236.27 171.67,236.23 175.00,236.40 C178.33,236.57 181.67,237.02 185.00,237.40 C188.33,237.78 191.83,238.33 195.00,238.70 C198.17,239.07 199.00,239.25 204.00,239.60 C209.00,239.95 218.17,240.65 225.00,240.80 C231.83,240.95 241.67,240.55 245.00,240.50" stroke="#111" stroke-width="2.3" stroke-dasharray="7 4.5" stroke-linecap="butt"/>
</g>
<text x="100.8" y="15.9" font-size="16.8" textLength="104.4" lengthAdjust="spacingAndGlyphs">Granulocytes</text>
<text x="378" y="15.4" font-size="16.8" textLength="66.6" lengthAdjust="spacingAndGlyphs">Platelets</text>
<text x="100.8" y="210.5" font-size="16.8" textLength="104.7" lengthAdjust="spacingAndGlyphs">Lymphocytes</text>
<text transform="translate(14.5 114.4) rotate(-90)" font-size="15" textLength="51" lengthAdjust="spacingAndGlyphs">cells/µl</text>
<text transform="translate(14.5 301.3) rotate(-90)" font-size="15" textLength="50.8" lengthAdjust="spacingAndGlyphs">cells/µl</text>
<text transform="translate(279.2 106.9) rotate(-90)" font-size="15" textLength="41.5" lengthAdjust="spacingAndGlyphs">10<tspan font-size="10" dy="-5">3</tspan><tspan dy="5">/µl</tspan></text>
<text x="139" y="189.8" font-size="14.3" textLength="24.6" lengthAdjust="spacingAndGlyphs">Day</text>
<text x="405.6" y="190.1" font-size="14.3" textLength="24.6" lengthAdjust="spacingAndGlyphs">Day</text>
<text x="139.4" y="384.2" font-size="14.3" textLength="24.4" lengthAdjust="spacingAndGlyphs">Day</text>
<line x1="255.2" y1="240" x2="291.8" y2="240" stroke="#2d6db5" stroke-width="2.2"/>
<text x="298.6" y="244.8" font-size="16.5" textLength="85" lengthAdjust="spacingAndGlyphs">625 µCi/kg</text>
<line x1="255.2" y1="265" x2="291.8" y2="265" stroke="#1fa24a" stroke-width="2.2"/>
<text x="298.6" y="269.0" font-size="16.5" textLength="85" lengthAdjust="spacingAndGlyphs">539 µCi/kg</text>
<line x1="255.2" y1="289.5" x2="291.8" y2="289.5" stroke="#d42428" stroke-width="2.2"/>
<text x="298.6" y="293.6" font-size="16.5" textLength="85" lengthAdjust="spacingAndGlyphs">517 µCi/kg</text>
<line x1="255.2" y1="310.3" x2="291.8" y2="310.3" stroke="#f0a334" stroke-width="2.2"/>
<text x="298.6" y="314.4" font-size="16.5" textLength="85" lengthAdjust="spacingAndGlyphs">411 µCi/kg</text>
<line x1="255.2" y1="329.3" x2="291.8" y2="329.3" stroke="#5a3f8c" stroke-width="2.2"/>
<text x="298.6" y="335.2" font-size="16.5" textLength="85" lengthAdjust="spacingAndGlyphs">356 µCi/kg</text>
<line x1="390.8" y1="240" x2="427" y2="240" stroke="#ee8585" stroke-width="2.2"/>
<text x="429.8" y="244.8" font-size="16.5" textLength="85" lengthAdjust="spacingAndGlyphs">285 µCi/kg</text>
<line x1="390.8" y1="265" x2="427" y2="265" stroke="#8a2330" stroke-width="2.2"/>
<text x="429.8" y="269.0" font-size="16.5" textLength="85" lengthAdjust="spacingAndGlyphs">203 µCi/kg</text>
<line x1="390.8" y1="289.5" x2="427" y2="289.5" stroke="#f5f50a" stroke-width="2.2"/>
<text x="429.8" y="293.6" font-size="16.5" textLength="85" lengthAdjust="spacingAndGlyphs">155 µCi/kg</text>
<line x1="390.8" y1="310.3" x2="427" y2="310.3" stroke="#111" stroke-width="2.6"/>
<text x="429.8" y="314.4" font-size="16.5">200 cGy</text>
<line x1="390.8" y1="329.3" x2="427" y2="329.3" stroke="#111" stroke-width="2.6" stroke-dasharray="8.4 5.8"/>
<text x="437.7" y="335.2" font-size="16.5"><tspan font-size="11" dy="-5.5">213</tspan><tspan dy="5.5">Bi</tspan></text>
</svg></body></html>
